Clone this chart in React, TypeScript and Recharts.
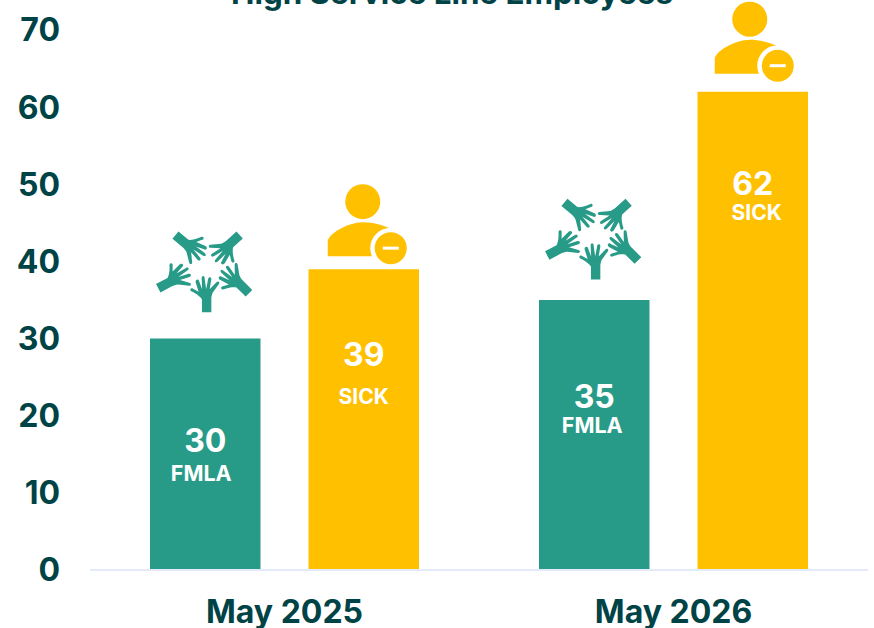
import React from "react";
import { BarChart, Bar, XAxis, YAxis } from "recharts";

const categories = ["May 2025", "May 2026"];
const fmlaValues = [30, 35];
const sickValues = [39, 62];
const yTicks = [0, 10, 20, 30, 40, 50, 60, 70];
const fmlaName = "FMLA";
const sickName = "SICK";
const titleText = "High Service Line Employees";

const rows = categories.map((c, i) => ({ category: c, fmla: fmlaValues[i], sick: sickValues[i] }));

const TEAL = "#289b88";
const GOLD = "#ffc000";
const INK = "#004346";
const FONT = "Inter, 'Noto Sans', sans-serif";

// hand-placed annotation offsets relative to each bar (from the reference)
const fmlaLayout = [
  { starLift: 65.8, numY: 102, numDx: 0, nameY: 134, nameDx: -4 },
  { starLift: 60, numY: 96, numDx: 0, nameY: 125, nameDx: -2 },
];
const sickLayout = [
  { lift: 0, dx: 0, numY: 85.5, numDx: 0, nameY: 127, nameDx: 0 },
  { lift: 5, dx: -2, numY: 91.5, numDx: 0, nameY: 121, nameDx: 4 },
];

const HAND =
  "M-4.7 0 L-4.7 -13 C-6 -15 -9 -18 -15.5 -21 C-17.5 -22.5 -15.5 -25 -13.5 -23.5 L-8 -20.5 L-11 -30 C-11.5 -33 -8 -34 -7.5 -31 L-4.5 -23 L-5 -34 C-5 -37 -2 -37 -2 -34 L-0.5 -23 L1.5 -33.5 C2 -36 5 -35.5 4.7 -33 L3 -23 L9.8 -30 C11.5 -32 13.5 -30 12.3 -28.3 L6 -19.5 C5 -17 4.7 -15 4.7 -13 L4.7 0 Z";

const handPlacement = [
  { x: 1.4, y: 39.5, a: 0 },
  { x: -47, y: 15.5, a: 62 },
  { x: -29.8, y: -37.7, a: 130 },
  { x: 34.4, y: -37.7, a: 228 },
  { x: 43.7, y: 20.5, a: 315 },
];

const Star = ({ cx, cy }: { cx: number; cy: number }) => (
  <g transform={`translate(${cx},${cy})`} fill={TEAL}>
    {handPlacement.map((h) => (
      <path key={h.a} d={HAND} transform={`translate(${h.x},${h.y}) rotate(${h.a})`} />
    ))}
  </g>
);

const Person = ({ cx, top }: { cx: number; top: number }) => (
  <g>
    <circle cx={cx} cy={top + 17.5} r={17.5} fill={GOLD} />
    <path
      d={`M${cx - 35} ${top + 72} L${cx - 35} ${top + 57} C${cx - 35} ${top + 50} ${cx - 15} ${top + 38} ${cx} ${top + 38} C${cx + 15} ${top + 38} ${cx + 30} ${top + 44} ${cx + 35} ${top + 50} L${cx + 35} ${top + 72} Z`}
      fill={GOLD}
    />
    <circle cx={cx + 28} cy={top + 64} r={20.5} fill="#fff" />
    <circle cx={cx + 28} cy={top + 64} r={16} fill={GOLD} />
    <rect x={cx + 20} y={top + 62.5} width={16} height={3} fill="#fff" />
  </g>
);

const BarText = ({ cx, y, size, text }: { cx: number; y: number; size: number; text: string | number }) => (
  <text x={cx} y={y} textAnchor="middle" dominantBaseline="central" fontFamily={FONT} fontWeight={700} fontSize={size} fill="#fff">
    {text}
  </text>
);

const fmlaLabel = (p: any) => {
  const l = fmlaLayout[p.index];
  const cx = p.x + p.width / 2;
  return (
    <g>
      <Star cx={cx} cy={p.y - l.starLift} />
      <BarText cx={cx + l.numDx} y={p.y + l.numY} size={32} text={p.value} />
      <BarText cx={cx + l.nameDx} y={p.y + l.nameY} size={21.5} text={fmlaName} />
    </g>
  );
};

const sickLabel = (p: any) => {
  const l = sickLayout[p.index];
  const cx = p.x + p.width / 2;
  return (
    <g>
      <Person cx={cx - 1 + l.dx} top={p.y - 85 - l.lift} />
      <BarText cx={cx + l.numDx} y={p.y + l.numY} size={32} text={p.value} />
      <BarText cx={cx + l.nameDx} y={p.y + l.nameY} size={21} text={sickName} />
    </g>
  );
};

export default function App() {
  return (
    <div style={{ position: "absolute", left: 0, top: 0, width: 874, height: 628, overflow: "hidden", background: "#fff" }}>
      <BarChart
        width={874}
        height={628}
        data={rows}
        margin={{ top: 30, right: 6, bottom: 28, left: 0 }}
        barSize={110.5}
        barGap={48}
      >
        <text x={452} y={3.5} textAnchor="middle" fontFamily={FONT} fontWeight={700} fontSize={31.3} fill={INK}>
          {titleText}
        </text>
        <XAxis
          dataKey="category"
          axisLine={{ stroke: "#e3ebfb", strokeWidth: 2 }}
          tickLine={false}
          tick={{ fontFamily: FONT, fontWeight: 700, fontSize: 32, fill: INK }}
          tickMargin={24}
          interval={0}
        />
        <YAxis
          domain={[0, 70]}
          ticks={yTicks}
          width={90}
          axisLine={false}
          tickLine={false}
          tick={{ fontFamily: FONT, fontWeight: 700, fontSize: 32, fill: INK }}
          tickMargin={24}
        />
        <Bar dataKey="fmla" fill={TEAL} isAnimationActive={false} label={fmlaLabel} />
        <Bar dataKey="sick" fill={GOLD} isAnimationActive={false} label={sickLabel} />
      </BarChart>
    </div>
  );
}
